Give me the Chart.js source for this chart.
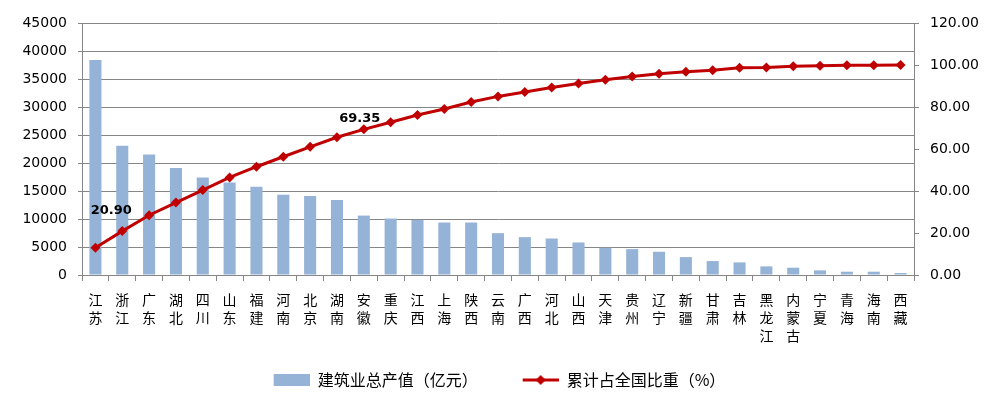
<!DOCTYPE html>
<html>
  <head>
    <meta charset="utf-8" />
    <title>建筑业总产值</title>
    <script src="https://cdn.jsdelivr.net/npm/chart.js@4/dist/chart.umd.min.js"></script>
    <style>
      html, body { margin: 0; padding: 0; background: #fff; }
      #wrap { width: 1004px; height: 408px; }
    </style>
  </head>
  <body>
    <div id="wrap"><canvas id="myChart" width="1004" height="408"></canvas></div>
    <script>
      // provinces, stacked one char per line like the original
      const provinces = [
        "江苏", "浙江", "广东", "湖北", "四川", "山东", "福建", "河南", "北京", "湖南",
        "安徽", "重庆", "江西", "上海", "陕西", "云南", "广西", "河北", "山西", "天津",
        "贵州", "辽宁", "新疆", "甘肃", "吉林", "黑龙江", "内蒙古", "宁夏", "青海", "海南", "西藏",
      ];
      // 建筑业总产值（亿元）
      const outputValues = [
        38400, 23100, 21500, 19100, 17430, 16540, 15770, 14350, 14110, 13400,
        10610, 10080, 9840, 9370, 9370, 7470, 6760, 6520, 5810, 4860,
        4620, 4150, 3200, 2490, 2250, 1540, 1300, 830, 590, 590, 355,
      ];
      // 累计占全国比重（%）
      const cumulativeShare = [
        12.95, 20.90, 28.46, 34.48, 40.46, 46.48, 51.56, 56.30, 61.05, 65.60,
        69.35, 72.72, 76.2, 79.06, 82.37, 85.05, 87.1, 89.3, 91.2, 92.97,
        94.55, 95.8, 96.76, 97.55, 98.66, 98.8, 99.45, 99.6, 99.9, 99.9, 100,
      ];
      const leftTicks = [0, 45000, 5000];
      const rightTicks = [0, 120, 20];
      // which points get a value label, and where the label sits
      const labelled = [
        { index: 1, dx: -11, dy: -20 },
        { index: 10, dx: -4, dy: -11 },
      ];

      const barColor = "#95B3D7";
      const lineColor = "#C00000";
      const gridColor = "#868686";

      // legend swatches: 36px mark on the right, blank gap on the left
      const SW = 71;
      function swatch(kind) {
        const c = document.createElement("canvas");
        c.width = SW;
        c.height = 12;
        const g = c.getContext("2d");
        const x0 = SW - 36;
        if (kind === "bar") {
          g.fillStyle = barColor;
          g.fillRect(x0, 0, 36, 12);
        } else {
          g.strokeStyle = lineColor;
          g.lineWidth = 3;
          g.beginPath();
          g.moveTo(x0, 6);
          g.lineTo(x0 + 36, 6);
          g.stroke();
          g.fillStyle = lineColor;
          g.beginPath();
          g.moveTo(x0 + 18, 1);
          g.lineTo(x0 + 23, 6);
          g.lineTo(x0 + 18, 11);
          g.lineTo(x0 + 13, 6);
          g.closePath();
          g.fill();
        }
        return c;
      }

      const valueLabels = {
        id: "valueLabels",
        afterDatasetsDraw(chart) {
          const meta = chart.getDatasetMeta(1);
          const ctx = chart.ctx;
          ctx.save();
          ctx.font = "bold 13px 'DejaVu Sans'";
          ctx.fillStyle = "#000";
          ctx.textAlign = "center";
          ctx.textBaseline = "middle";
          labelled.forEach(({ index, dx, dy }) => {
            const pt = meta.data[index];
            ctx.fillText(cumulativeShare[index].toFixed(2), pt.x + dx, pt.y + dy);
          });
          ctx.restore();
        },
      };

      // nudge the legend left so the visible part sits where the original has it
      const legendShift = {
        id: "legendShift",
        afterLayout(chart) {
          chart.legend.left -= 20;
          chart.legend.right -= 20;
        },
      };

      const data = {
        labels: provinces.map((p) => p.split("")),
        datasets: [
          {
            type: "bar",
            label: "建筑业总产值（亿元）",
            data: outputValues,
            backgroundColor: barColor,
            yAxisID: "y",
            barPercentage: 0.9,
            categoryPercentage: 0.5,
            order: 1,
          },
          {
            type: "line",
            label: "累计占全国比重（%）",
            data: cumulativeShare,
            borderColor: lineColor,
            backgroundColor: lineColor,
            borderWidth: 3,
            pointStyle: "rectRot",
            pointRadius: 5,
            pointBorderWidth: 0,
            tension: 0,
            yAxisID: "y1",
            order: 0,
          },
        ],
      };

      const config = {
        type: "bar",
        data: data,
        plugins: [valueLabels, legendShift],
        options: {
          responsive: false,
          animation: false,
          layout: { padding: { top: 23, left: 0, right: 0, bottom: 10 } },
          plugins: {
            tooltip: { enabled: false },
            legend: {
              position: "bottom",
              labels: {
                usePointStyle: true,
                pointStyleWidth: SW,
                boxHeight: 12,
                padding: 10,
                color: "#000",
                font: { family: "'Noto Sans CJK SC'", size: 16 },
                generateLabels: () => [
                  { text: data.datasets[0].label, pointStyle: swatch("bar"), lineWidth: 0, datasetIndex: 0 },
                  { text: data.datasets[1].label, pointStyle: swatch("line"), lineWidth: 0, datasetIndex: 1 },
                ],
              },
            },
          },
          scales: {
            x: {
              offset: true,
              grid: {
                display: true,
                drawOnChartArea: false,
                offset: true,
                color: gridColor,
                tickLength: 6,
              },
              border: { color: gridColor },
              ticks: {
                color: "#000",
                autoSkip: false,
                maxRotation: 0,
                padding: 10,
                font: { family: "'Noto Sans CJK SC'", size: 14, lineHeight: 1.29 },
              },
              afterFit: (s) => { s.height = 87; },
            },
            y: {
              position: "left",
              min: leftTicks[0],
              max: leftTicks[1],
              ticks: {
                stepSize: leftTicks[2],
                color: "#000",
                padding: 11,
                font: { family: "'DejaVu Sans'", size: 14 },
                callback: (v) => String(v),
              },
              grid: { color: gridColor, tickLength: 4 },
              border: { color: gridColor },
              afterFit: (s) => { s.width = 82; },
            },
            y1: {
              position: "right",
              min: rightTicks[0],
              max: rightTicks[1],
              ticks: {
                stepSize: rightTicks[2],
                color: "#000",
                padding: 11,
                font: { family: "'DejaVu Sans'", size: 14 },
                callback: (v) => v.toFixed(2),
              },
              grid: { drawOnChartArea: false, color: gridColor, tickLength: 5 },
              border: { color: gridColor },
              afterFit: (s) => { s.width = 90; },
            },
          },
        },
      };

      const ctx = document.getElementById("myChart");
      const myChart = new Chart(ctx, config);
    </script>
  </body>
</html>
